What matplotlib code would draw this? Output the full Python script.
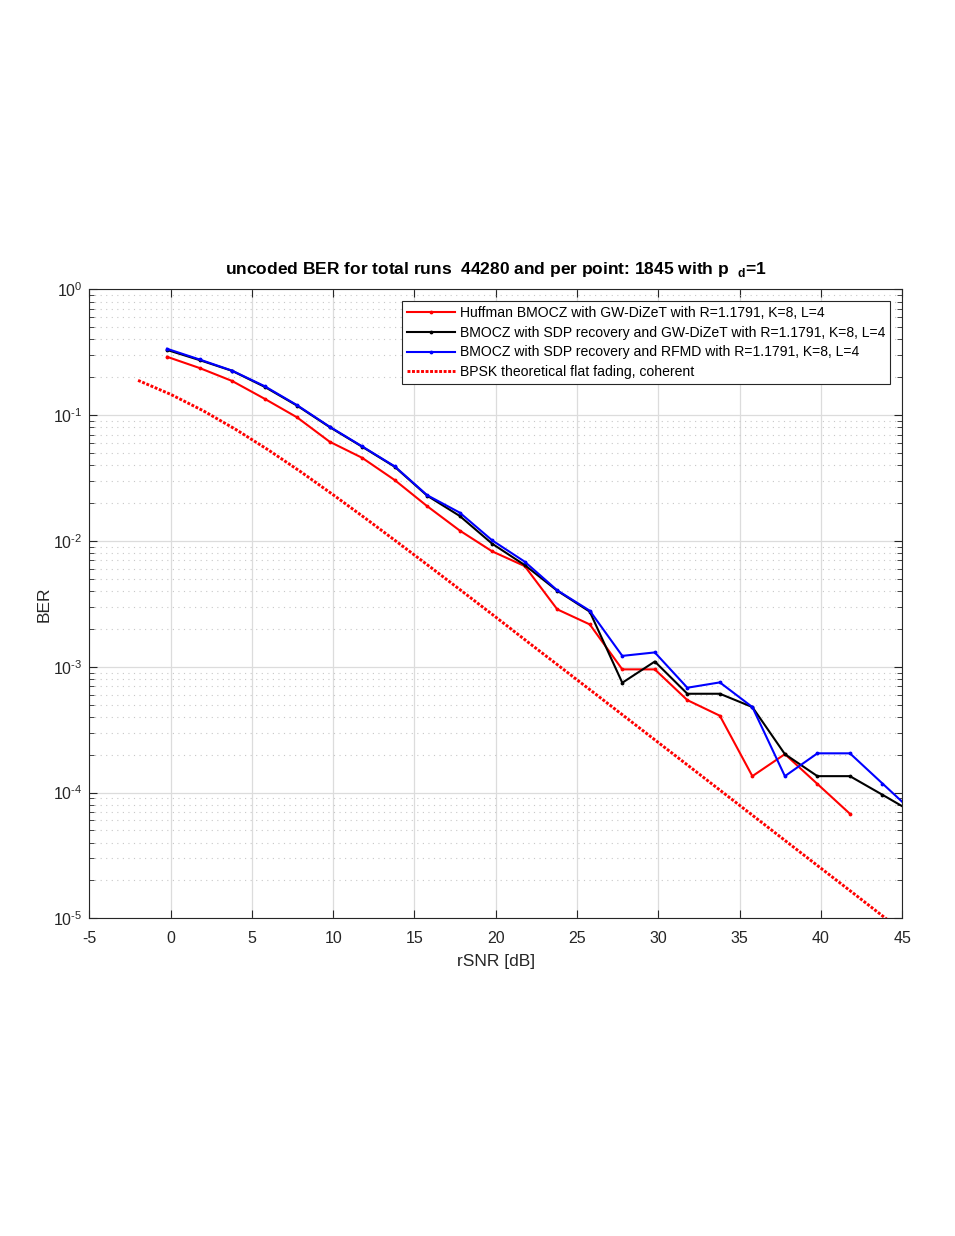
import matplotlib
matplotlib.use("Agg")
import matplotlib.pyplot as plt
from matplotlib.ticker import LogLocator, NullFormatter, FuncFormatter
import numpy as np

plt.rcParams['font.family'] = ['Liberation Sans', 'DejaVu Sans']
plt.rcParams['mathtext.fontset'] = 'custom'
plt.rcParams['mathtext.rm'] = 'Liberation Sans'
plt.rcParams['mathtext.bf'] = 'Liberation Sans:bold'
plt.rcParams['axes.unicode_minus'] = False

# rSNR points of the simulated curves (dB)
snr_sim = [-0.22, 1.78, 3.78, 5.78, 7.78, 9.78, 11.78, 13.78, 15.78, 17.78, 19.78,
           21.78, 23.78, 25.78, 27.78, 29.78, 31.78, 33.78, 35.78, 37.78, 39.78,
           41.78, 43.78, 45.78]

ber_huffman = [0.291, 0.237, 0.187, 0.135, 0.096, 0.0615, 0.0458, 0.0305, 0.0189,
               0.0121, 0.00826, 0.00631, 0.00286, 0.00217, 0.000953, 0.000953,
               0.000543, 0.000408, 0.000135, 0.000202, 0.000117, 0.0000678]

ber_sdp_gw = [0.330, 0.274, 0.225, 0.168, 0.119, 0.0804, 0.0561, 0.0389, 0.0229,
              0.0158, 0.0095, 0.00643, 0.00402, 0.00274, 0.000746, 0.0011,
              0.00061, 0.00061, 0.000478, 0.000202, 0.000135, 0.000135,
              0.000096, 0.000068]

ber_sdp_rfmd = [0.337, 0.277, 0.226, 0.170, 0.120, 0.0810, 0.0565, 0.0392, 0.0231,
                0.0168, 0.0101, 0.00684, 0.00405, 0.00279, 0.00122, 0.0013,
                0.000681, 0.000751, 0.000478, 0.000135, 0.000205, 0.000205,
                0.000118, 0.000068]

# BPSK flat fading, coherent detection
snr_th = [-2, 0, 2, 4, 6, 8, 10, 12, 14, 16, 18, 20, 22, 24, 26, 28, 30, 32, 34,
          36, 38, 40, 42, 44, 46]
ber_th = [0.189, 0.1464, 0.1085, 0.0771, 0.0530, 0.0355, 0.02327, 0.01507, 0.00966,
          0.006164, 0.003916, 0.002481, 0.001562, 0.000989, 0.000626, 0.0003953,
          0.0002496, 0.0001577, 0.0000995, 0.0000628, 0.0000396, 0.000025,
          0.0000158, 0.00000995, 0.00000628]

labels = ["Huffman BMOCZ with GW-DiZeT with R=1.1791, K=8, L=4",
          "BMOCZ with SDP recovery and GW-DiZeT with R=1.1791, K=8, L=4",
          "BMOCZ with SDP recovery and RFMD with R=1.1791, K=8, L=4",
          "BPSK theoretical flat fading, coherent"]


def pow10_label(v, pos):
    e = int(round(np.log10(v)))
    if e < 0:
        return r"$\mathdefault{10^{\text{-}%d}}$" % (-e)
    return r"$\mathdefault{10^{%d}}$" % e


fig = plt.figure(figsize=(9.55, 12.36), dpi=100)
ax = fig.add_axes([0.0935, 0.257, 0.8513, 0.5089])

ax.semilogy(snr_sim[:len(ber_huffman)], ber_huffman, '-', color='red', marker='.',
            markersize=3.5, linewidth=1.5, label=labels[0])
ax.semilogy(snr_sim, ber_sdp_gw, '-', color='black', marker='.',
            markersize=3.5, linewidth=1.5, label=labels[1])
ax.semilogy(snr_sim, ber_sdp_rfmd, '-', color='blue', marker='.',
            markersize=3.5, linewidth=1.5, label=labels[2])
ax.semilogy(snr_th, ber_th, color='red', linewidth=2.1, dashes=(1, 0.55),
            label=labels[3])

ax.set_xlim(-5, 45)
ax.set_ylim(1e-5, 1)
ax.set_xticks(range(-5, 50, 5))
ax.yaxis.set_major_locator(LogLocator(base=10, numticks=10))
ax.yaxis.set_major_formatter(FuncFormatter(pow10_label))
ax.yaxis.set_minor_locator(LogLocator(base=10, subs=range(2, 10), numticks=100))
ax.yaxis.set_minor_formatter(NullFormatter())

ax.grid(True, which='major', color='#dcdcdc', linewidth=0.9, linestyle='-')
ax.grid(True, which='minor', axis='y', color='#c8c8c8', linewidth=0.8, linestyle=(0, (1, 4)))
ax.set_axisbelow(True)

ax.tick_params(which='both', direction='in', top=True, right=True, labelsize=11.5,
               colors='#262626')
ax.tick_params(axis='x', pad=9)
ax.tick_params(axis='y', pad=5)
ax.tick_params(which='major', length=6)
ax.tick_params(which='minor', length=3.5)
for s in ax.spines.values():
    s.set_color('#262626')
    s.set_linewidth(0.8)

ax.set_xlabel("rSNR [dB]", fontsize=12.5, color='#262626', labelpad=6)
ax.set_ylabel("BER", fontsize=12.5, color='#262626', labelpad=1)
ax.set_title(r"uncoded BER for total runs  44280 and per point: 1845 with p  $_{\mathbf{d}}$=1",
             fontsize=12.5, fontweight='bold', pad=11)

leg = ax.legend(loc='upper right', bbox_to_anchor=(0.9855, 0.981), borderaxespad=0,
                fontsize=10.1, fancybox=False, framealpha=1, edgecolor='#262626',
                handlelength=3.4, labelspacing=0.4, borderpad=0.35, handletextpad=0.4)
leg.get_frame().set_linewidth(0.8)

fig.savefig("out.png", dpi=100)
